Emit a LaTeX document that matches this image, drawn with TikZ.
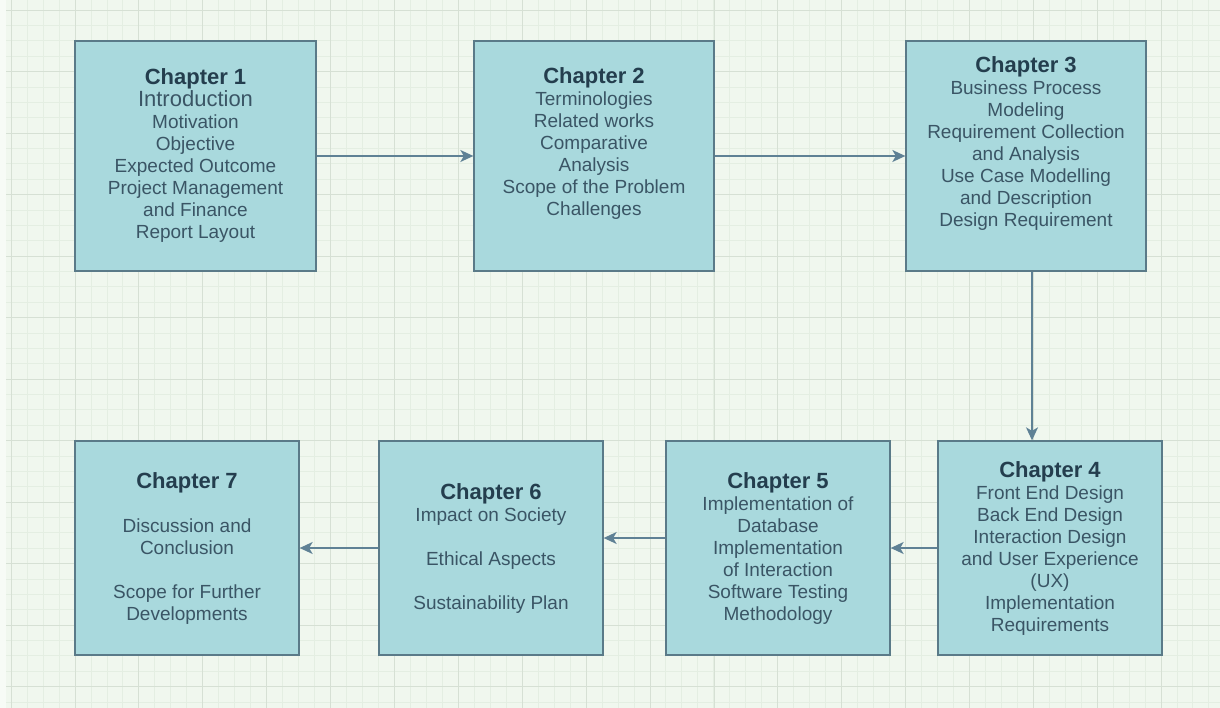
\documentclass[tikz,border=0pt]{standalone}
\usepackage{fontspec}
\setmainfont{Liberation Sans}
\usetikzlibrary{arrows.meta}

\definecolor{paper}{HTML}{F7FBF6}
\definecolor{bgcol}{HTML}{F0F7EE}
\definecolor{minorcol}{HTML}{E4EEE2}
\definecolor{majorcol}{HTML}{D6E0D4}
\definecolor{boxfill}{HTML}{A9D9DD}
\definecolor{boxline}{HTML}{5A7A88}
\definecolor{titlecol}{HTML}{243E4E}
\definecolor{textcol}{HTML}{3A5565}
\definecolor{arrowcol}{HTML}{5F8195}

\tikzset{
  chapter/.style={draw=boxline, fill=boxfill, line width=1.3pt, align=center,
    text=textcol, inner sep=0pt, font=\fontsize{19}{22}\selectfont},
  toprow/.style={chapter, minimum width=240, minimum height=230},
  botrow/.style={chapter, minimum width=224, minimum height=214},
  flow/.style={draw=arrowcol, line width=1.5pt,
    -{Stealth[length=13pt,width=12pt,inset=3.5pt]}}
}
\newcommand{\chap}[1]{{\fontsize{22}{25}\selectfont\bfseries\color{titlecol}#1}}

\begin{document}
\begin{tikzpicture}[x=1pt,y=-1pt]
    \useasboundingbox (0,0) rectangle (1220,708);
    % Grid paper
    \fill[paper] (0,0) rectangle (1220,708);
    \fill[bgcol] (6,0) rectangle (1220,708);
    \foreach \k in {0,...,75} \draw[minorcol, line width=0.6pt] ({11+15.97*\k},0) -- ({11+15.97*\k},708);
    \foreach \k in {0,...,45} \draw[minorcol, line width=0.6pt] (6,{10+15.375*\k}) -- (1220,{10+15.375*\k});
    \foreach \k in {0,...,18} \draw[majorcol, line width=0.8pt] ({11+63.9*\k},0) -- ({11+63.9*\k},708);
    \foreach \k in {0,...,11} \draw[majorcol, line width=0.8pt] (6,{10+61.5*\k}) -- (1220,{10+61.5*\k});

    % Top row
    \node[toprow, minimum width=241] (c1) at (195.5,156) {\chap{Chapter 1}\\{\fontsize{22}{25}\selectfont Introduction}\\Motivation\\Objective\\Expected Outcome\\Project Management\\and Finance\\Report Layout};
    \node[toprow] (c2) at (594,156) {\chap{Chapter 2}\\Terminologies\\Related works\\Comparative\\Analysis\\Scope of the Problem\\Challenges\\\strut};
    \node[toprow] (c3) at (1026,156) {\chap{Chapter 3}\\Business Process\\Modeling\\Requirement Collection\\and Analysis\\Use Case Modelling\\and Description\\Design Requirement\\\strut};

    % Bottom row
    \node[botrow] (c4) at (1050,548) {\chap{Chapter 4}\\Front End Design\\Back End Design\\Interaction Design\\and User Experience\\(UX)\\Implementation\\Requirements};
    \node[botrow] (c5) at (778,548) {\chap{Chapter 5}\\Implementation of\\Database\\Implementation\\of Interaction\\Software Testing\\Methodology};
    \node[botrow] (c6) at (491,548) {\chap{Chapter 6}\\Impact on Society\\[22pt]Ethical Aspects\\[22pt]Sustainability Plan};
    \node[botrow] (c7) at (187,548) {\chap{Chapter 7}\\[22pt]Discussion and\\Conclusion\\[22pt]Scope for Further\\Developments};

    % Arrows
    \draw[flow] (c1) -- (c2);
    \draw[flow] (c2) -- (c3);
    \draw[flow] ([xshift=6]c3.south) -- ([xshift=6]c3.south |- c4.north);
    \draw[flow] (c4) -- (c5);
    \draw[flow] ([yshift=10]c5.west) -- ([yshift=10]c5.west -| c6.east);
    \draw[flow] (c6) -- (c7);
\end{tikzpicture}
\end{document}
